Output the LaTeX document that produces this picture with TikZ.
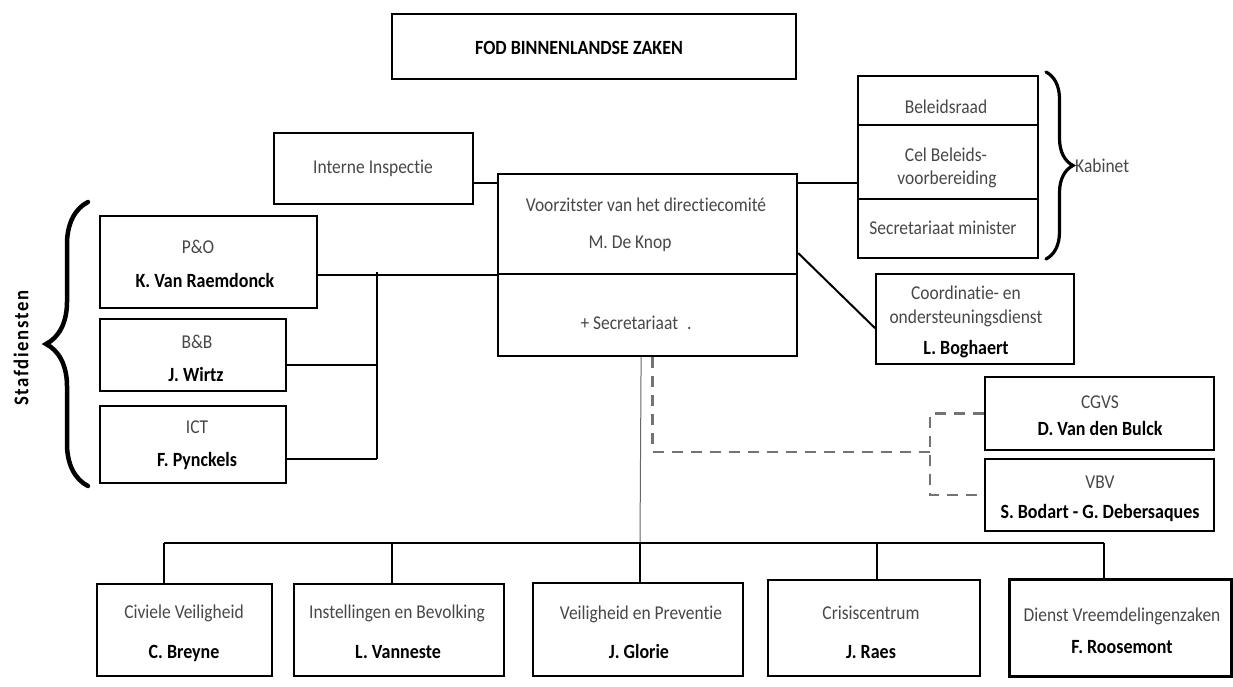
\documentclass[tikz,border=0pt]{standalone}
\usepackage{fontspec}
\setmainfont[FakeStretch=0.89,Ligatures=NoCommon]{Carlito}
\newfontfamily\staffont[LetterSpace=8,FakeStretch=0.89]{Carlito}
\usetikzlibrary{decorations.pathreplacing}
\begin{document}
\begin{tikzpicture}[x=1pt,y=-1pt,
  box/.style={draw=black, line width=2.2pt, inner sep=0pt, anchor=north west},
  reg/.style={text=black!72, font=\fontsize{19.6}{23}\selectfont, inner sep=0pt, anchor=base, yshift=-6.5pt},
  nam/.style={text=black, font=\bfseries\fontsize{20.2}{24}\selectfont, inner sep=0pt, anchor=base, yshift=-6.5pt},
  conn/.style={line width=2pt, draw=black},
  dconn/.style={line width=2.6pt, draw=black!55, dash pattern=on 11pt off 8pt},
  brc/.style={decorate, draw=black, line cap=round},
]
\useasboundingbox (0,0) rectangle (1233,686);

% top
\node[box, minimum width=404pt, minimum height=65pt] (fod) at (391,13) {};
\node[nam] (fodT) at (579,48) {FOD BINNENLANDSE ZAKEN};

% Interne Inspectie
\node[box, minimum width=199pt, minimum height=71pt] (int) at (273,132) {};
\node[reg] (intT) at (373,167) {Interne Inspectie};

% centre
\node[box, minimum width=299pt, minimum height=100pt] (cenU) at (497,173) {};
\node[box, minimum width=299pt, minimum height=82pt] (cenL) at (497,273) {};
\node[reg] (cenT1) at (646,205) {Voorzitster van het directiecomité};
\node[reg] (cenT2) at (630,242) {M. De Knop};
\node[reg] (cenT3) at (636,323) {+ Secretariaat\hspace{9pt}.};

% Kabinet
\node[box, minimum width=180pt, minimum height=49pt] (kab1) at (857,75) {};
\node[box, minimum width=180pt, minimum height=74pt] (kab2) at (857,124) {};
\node[box, minimum width=180pt, minimum height=59pt] (kab3) at (857,198) {};
\node[reg] (kab1T) at (946,107) {Beleidsraad};
\node[reg] (kab2T1) at (946,155) {Cel Beleids-};
\node[reg] (kab2T2) at (947,178) {voorbereiding};
\node[reg] (kab3T) at (943,228) {Secretariaat minister};
\draw[brc, line width=3.2pt, decoration={brace, amplitude=27pt}] (1046,72) -- (1046,259);
\node[text=black!72, font=\fontsize{19.6}{23}\selectfont, inner sep=0pt, anchor=west] (kabT) at (1075,166) {Kabinet};

% Coordinatie
\node[box, minimum width=198pt, minimum height=90pt] (coo) at (875,273) {};
\node[reg] (cooT1) at (966,293) {Coordinatie- en};
\node[reg] (cooT2) at (966,317) {ondersteuningsdienst};
\node[nam] (cooT3) at (966,348) {L. Boghaert};

% CGVS / VBV
\node[box, minimum width=229pt, minimum height=73pt] (cgvs) at (984,376) {};
\node[reg] (cgvsT1) at (1100,402) {CGVS};
\node[nam] (cgvsT2) at (1100,429) {D. Van den Bulck};
\node[box, minimum width=229pt, minimum height=72pt] (vbv) at (984,458) {};
\node[reg] (vbvT1) at (1100,482) {VBV};
\node[nam] (vbvT2) at (1100,512) {S. Bodart - G. Debersaques};

% Stafdiensten
\node[box, minimum width=217pt, minimum height=92pt] (po) at (99,215) {};
\node[reg] (poT1) at (198,247) {P\&O};
\node[nam] (poT2) at (205,281) {K. Van Raemdonck};
\node[box, minimum width=186pt, minimum height=72pt] (bb) at (99,318) {};
\node[reg] (bbT1) at (197,342) {B\&B};
\node[nam] (bbT2) at (196,375) {J. Wirtz};
\node[box, minimum width=186pt, minimum height=77pt] (ict) at (99,405) {};
\node[reg] (ictT1) at (197,427) {ICT};
\node[nam] (ictT2) at (197,460) {F. Pynckels};
\draw[brc, line width=4.5pt, decoration={brace, amplitude=42pt}] (88,486) -- (88,202);
\node[rotate=90, font=\staffont\bfseries\fontsize{21}{25}\selectfont, inner sep=0pt] (staf) at (21,348) {Stafdiensten};

% bottom row
\node[box, minimum width=175pt, minimum height=92pt] (civ) at (96,583) {};
\node[reg] (civT1) at (184,612) {Civiele Veiligheid};
\node[nam] (civT2) at (184,652) {C. Breyne};
\node[box, minimum width=210pt, minimum height=92pt] (ins) at (293,583) {};
\node[reg] (insT1) at (397,612) {Instellingen en Bevolking};
\node[nam] (insT2) at (398,652) {L. Vanneste};
\node[box, minimum width=210pt, minimum height=93pt] (glo) at (532,582) {};
\node[reg] (gloT1) at (641,613) {Veiligheid en Preventie};
\node[nam] (gloT2) at (639,652) {J. Glorie};
\node[box, minimum width=212pt, minimum height=96pt] (cri) at (767,579) {};
\node[reg] (criT1) at (871,613) {Crisiscentrum};
\node[nam] (criT2) at (871,652) {J. Raes};
\node[box, minimum width=222pt, minimum height=97pt, line width=3pt] (die) at (1008,578) {};
\node[reg] (dieT1) at (1122,615) {Dienst Vreemdelingenzaken};
\node[nam] (dieT2) at (1122,647) {F. Roosemont};

% connectors
\draw[conn] ([yshift=-10pt]cenU.north west) -- ([yshift=-10pt]cenU.north west -| int.east);
\draw[conn] ([yshift=-10pt]cenU.north east) -- ([yshift=-10pt]cenU.north east -| kab2.west);
\draw[conn] ([yshift=-29pt]cenU.east) -- ([yshift=-9pt]coo.west);

\coordinate (sj) at (377,272);
\draw[conn, line width=2.4pt] (cenU.south west) -- (cenU.south west -| po.east);
\draw[conn] (sj) -- ([yshift=-14.5pt]ict.east -| sj);
\draw[conn] ([yshift=-10pt]bb.east) -- ([yshift=-10pt]bb.east -| sj);
\draw[conn] ([yshift=-14.5pt]ict.east) -- ([yshift=-14.5pt]ict.east -| sj);

\coordinate (dj) at (930,452);
\draw[dconn] ([xshift=5pt]cenL.south) |- (dj);
\draw[dconn] (cgvs.west) -| (dj) |- (vbv.west);

\coordinate (b1) at (164,543);
\coordinate (b2) at (392,543);
\coordinate (b3) at (640,543);
\coordinate (b4) at (877,543);
\coordinate (b5) at (1104,543);
\draw[line width=1pt, draw=black!60] ([xshift=-6.5pt]cenL.south) -- (b3);
\draw[conn, line width=2.5pt] (b1) -- (b5);
\draw[conn] (b1) -- (b1 |- civ.north);
\draw[conn] (b2) -- (b2 |- ins.north);
\draw[conn] (b3) -- (b3 |- glo.north);
\draw[conn] (b4) -- (b4 |- cri.north);
\draw[conn] (b5) -- (b5 |- die.north);
\end{tikzpicture}
\end{document}
